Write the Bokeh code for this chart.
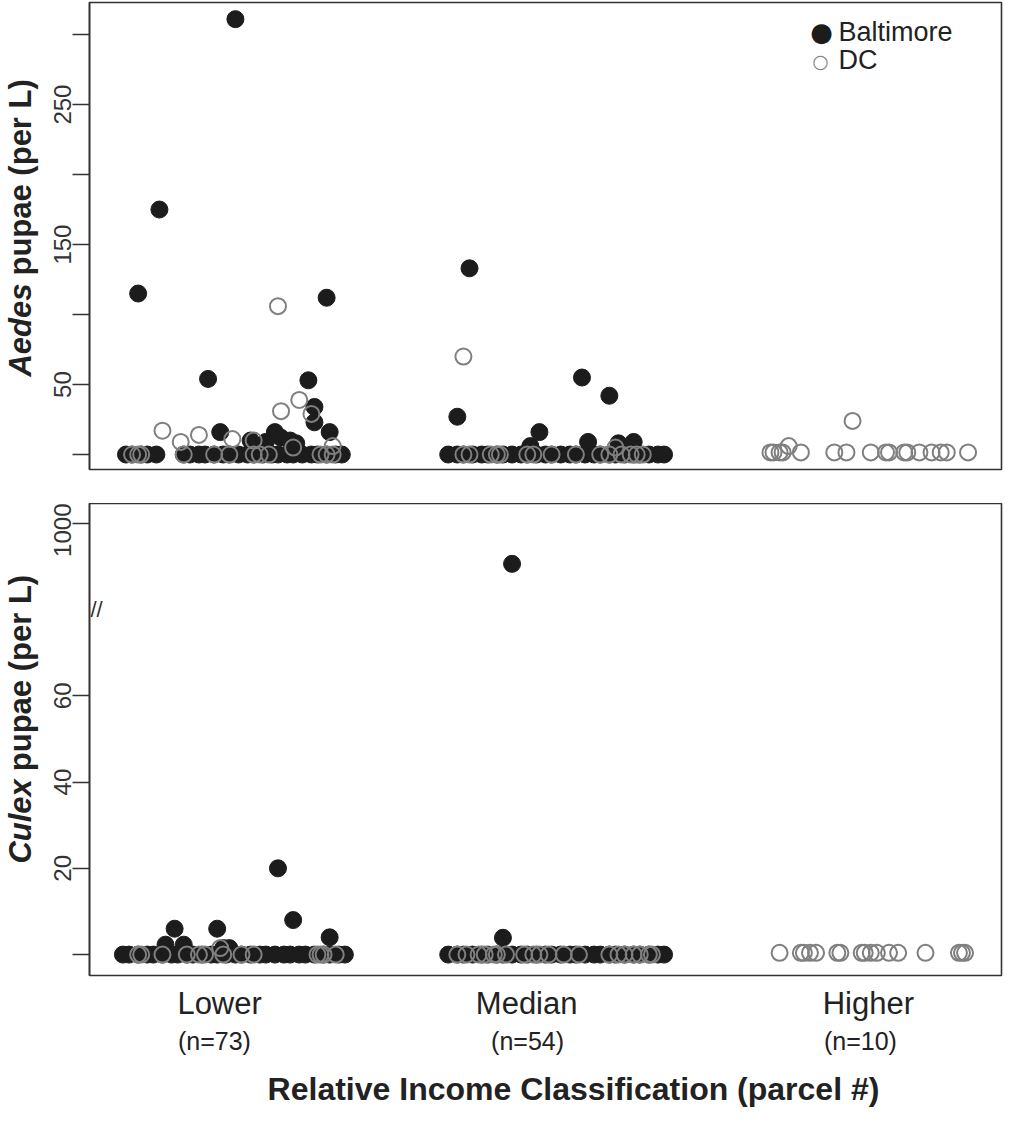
import math
from bokeh.plotting import figure
from bokeh.models import Range1d, FixedTicker, Label, ColumnDataSource, LinearAxis
from bokeh.layouts import column, row
from bokeh.embed import file_html
from bokeh.resources import INLINE

FONT = "Liberation Sans"
INK = "#222222"
FILL = "#1c1c1c"
GREY = "#7f7f7f"
LINE = "#333333"

# ---------------- data ----------------
categories = ["Lower", "Median", "Higher"]
n_labels = ["(n=73)", "(n=54)", "(n=10)"]
cat_pos = [1, 2, 3]
x_title = "Relative Income Classification (parcel #)"

# Aedes pupae (per L) -- Baltimore
aedes_balt_lower_jit = [-0.02, -0.27, -0.34, 0.28, -0.11, 0.22, 0.24, 0.24, 0.29, -0.07, 0.11, 0.03, 0.13, 0.16, 0.18, 0.08,
                        -0.38, -0.36, -0.33, -0.31, -0.28, -0.19, -0.17, -0.14, -0.12, -0.09, -0.06, -0.04, -0.01,
                        0.02, 0.04, 0.07, 0.10, 0.12, 0.15, 0.17, 0.20, 0.23, 0.25, 0.28, 0.31, 0.33]
aedes_balt_lower_val = [311, 175, 115, 112, 54, 53, 34, 23, 16, 16, 16, 10, 12, 10, 8, 9,
                        0, 0, 0, 0, 0, 0, 0, 0, 0, 0, 0, 0, 0,
                        0, 0, 0, 0, 0, 0, 0, 0, 0, 0, 0, 0, 0]
aedes_balt_median_jit = [-0.25, 0.12, 0.21, -0.29, -0.02, -0.05, 0.14, 0.24, 0.29,
                         -0.32, -0.29, -0.27, -0.24, -0.21, -0.19, -0.16, -0.14, -0.11, -0.08, -0.06, -0.03, 0.00, 0.02,
                         0.05, 0.08, 0.10, 0.13, 0.16, 0.18, 0.21, 0.23, 0.26, 0.29, 0.31, 0.34, 0.37, 0.39]
aedes_balt_median_val = [133, 55, 42, 27, 16, 6, 9, 8, 9,
                         0, 0, 0, 0, 0, 0, 0, 0, 0, 0, 0, 0, 0, 0,
                         0, 0, 0, 0, 0, 0, 0, 0, 0, 0, 0, 0, 0, 0]

# Aedes pupae (per L) -- DC
aedes_dc_lower_jit = [0.12, 0.19, 0.13, 0.23, -0.26, -0.14, -0.20, -0.03, 0.04, 0.17, 0.30,
                      -0.36, -0.34, -0.33, -0.19, -0.09, -0.04, 0.04, 0.06, 0.09, 0.26, 0.28, 0.30]
aedes_dc_lower_val = [106, 39, 31, 29, 17, 14, 9, 11, 10, 5, 6,
                      0, 0, 0, 0, 0, 0, 0, 0, 0, 0, 0, 0]
aedes_dc_median_jit = [-0.27, 0.23,
                       -0.27, -0.25, -0.18, -0.16, -0.15, -0.06, -0.04, 0.02, 0.10, 0.18, 0.21, 0.25, 0.28, 0.30, 0.32]
aedes_dc_median_val = [70, 5,
                       0, 0, 0, 0, 0, 0, 0, 0, 0, 0, 0, 0, 0, 0, 0]
aedes_dc_higher_jit = [-0.20, 0.01,
                       -0.26, -0.25, -0.23, -0.22, -0.16, -0.05, -0.01, 0.07, 0.12, 0.13, 0.18, 0.19, 0.23, 0.27,
                       0.30, 0.32, 0.39]
aedes_dc_higher_val = [6, 24,
                       1.5, 1.5, 1.5, 1.5, 1.5, 1.5, 1.5, 1.5, 1.5, 1.5, 1.5, 1.5, 1.5, 1.5, 1.5, 1.5, 1.5]

# Culex pupae (per L) -- Baltimore
culex_balt_lower_jit = [0.12, 0.17, 0.29, -0.22, -0.08, -0.25, -0.19, -0.06, -0.04,
                        -0.39, -0.37, -0.34, -0.31, -0.29, -0.26, -0.23, -0.21, -0.18, -0.16, -0.13, -0.10, -0.08,
                        -0.05, -0.02, 0.00, 0.03, 0.06, 0.08, 0.11, 0.14, 0.16, 0.19, 0.21, 0.24, 0.27, 0.29, 0.32, 0.34]
culex_balt_lower_val = [20, 8, 4, 6, 6, 2.3, 2.3, 1.5, 1.5,
                        0, 0, 0, 0, 0, 0, 0, 0, 0, 0, 0, 0, 0,
                        0, 0, 0, 0, 0, 0, 0, 0, 0, 0, 0, 0, 0, 0, 0, 0]
culex_balt_median_jit = [-0.11, -0.14,
                         -0.32, -0.29, -0.27, -0.24, -0.21, -0.19, -0.16, -0.14, -0.11, -0.08, -0.06, -0.03, 0.00, 0.02,
                         0.05, 0.08, 0.10, 0.13, 0.16, 0.18, 0.21, 0.23, 0.26, 0.29, 0.31, 0.34, 0.37, 0.39]
culex_balt_median_val = [906, 3.9,
                         0, 0, 0, 0, 0, 0, 0, 0, 0, 0, 0, 0, 0, 0,
                         0, 0, 0, 0, 0, 0, 0, 0, 0, 0, 0, 0, 0, 0]

# Culex pupae (per L) -- DC
culex_dc_lower_jit = [-0.07, -0.34, -0.33, -0.26, -0.18, -0.14, -0.12, -0.06, 0.00, 0.04, 0.25, 0.26, 0.27, 0.31]
culex_dc_lower_val = [1.5, 0, 0, 0, 0, 0, 0, 0, 0, 0, 0, 0, 0, 0]
culex_dc_median_jit = [-0.29, -0.26, -0.22, -0.20, -0.17, -0.16, -0.13, -0.07, -0.04, -0.02, 0.01, 0.06, 0.11,
                       0.21, 0.24, 0.26, 0.29, 0.31, 0.34, 0.35]
culex_dc_median_val = [0, 0, 0, 0, 0, 0, 0, 0, 0, 0, 0, 0, 0, 0, 0, 0, 0, 0, 0, 0]
culex_dc_higher_jit = [-0.23, -0.16, -0.15, -0.13, -0.11, -0.04, -0.03, 0.04, 0.05, 0.07, 0.09, 0.13, 0.16, 0.25,
                       0.36, 0.37, 0.38]
culex_dc_higher_val = [0.4, 0.4, 0.4, 0.4, 0.4, 0.4, 0.4, 0.4, 0.4, 0.4, 0.4, 0.4, 0.4, 0.4, 0.4, 0.4, 0.4]

aedes_ticks = [0, 50, 100, 150, 200, 250, 300]
aedes_tick_labels = {0: "", 50: "50", 100: "", 150: "150", 200: "", 250: "250", 300: ""}
culex_ticks = [0, 20, 40, 60, 100]
culex_tick_labels = {0: "", 20: "20", 40: "40", 60: "60", 100: "1000"}

# label anchor positions along the x axis (category units)
cat_label_x = [0.928, 1.938, 3.062]
n_label_x = [0.911, 1.941, 3.036]

# broken culex axis: linear up to the break, compressed above it
BREAK_AT = 80
UPPER_FROM = 800
UPPER_SCALE = 10


def culex_axis(v):
    return v if v <= 70 else BREAK_AT + (v - UPPER_FROM) / UPPER_SCALE


def xs(cat, jit):
    return [cat + j for j in jit]


TITLE_W = 44
MAIN_W = 966


def make_fig(height, yr, border_top, border_bottom, with_x_axis):
    p = figure(width=MAIN_W, height=height, x_range=Range1d(0.5, 3.5), y_range=yr,
               output_backend="svg", toolbar_location=None,
               x_axis_location="below" if with_x_axis else None,
               min_border_left=89 - TITLE_W, min_border_right=MAIN_W + TITLE_W - 1001,
               min_border_top=border_top, min_border_bottom=border_bottom,
               background_fill_color="white", border_fill_color="white")
    p.grid.visible = False
    p.outline_line_color = LINE
    p.outline_line_width = 1.6
    ax = p.yaxis[0]
    ax.axis_line_color = LINE
    ax.axis_line_width = 1.6
    ax.major_tick_line_color = LINE
    ax.major_tick_line_width = 1.6
    ax.major_tick_out = 17
    ax.major_tick_in = 0
    ax.minor_tick_out = 0
    ax.minor_tick_in = 0
    ax.major_label_orientation = "vertical"
    ax.major_label_text_font = FONT
    ax.major_label_text_font_size = "24px"
    ax.major_label_text_color = LINE
    ax.major_label_standoff = 1
    return p


def title_fig(height, yr, border_top, border_bottom):
    t = figure(width=TITLE_W, height=height, x_range=Range1d(0, TITLE_W), y_range=yr,
               output_backend="svg", toolbar_location=None, x_axis_location=None, y_axis_location=None,
               min_border_left=0, min_border_right=0, min_border_top=border_top, min_border_bottom=border_bottom,
               background_fill_color="white", border_fill_color="white", outline_line_color=None)
    t.grid.visible = False
    return t


def add_points(p, groups, filled):
    x, y = [], []
    for cat, jit, val in groups:
        x += xs(cat, jit)
        y += val
    src = ColumnDataSource(dict(x=x, y=y))
    if filled:
        p.scatter("x", "y", source=src, size=17, fill_color=FILL, line_color=FILL, line_width=1)
    else:
        p.scatter("x", "y", source=src, size=16, fill_color=None, line_color=GREY, line_width=2)


common = dict(text_font=FONT, text_color=INK)


def add_ytitle(t, y_join, word):
    t.add_layout(Label(x=20, x_units="screen", y=y_join, y_units="data", text=word, angle=math.pi / 2,
                       text_align="right", text_baseline="middle", text_font_style="bold italic",
                       text_font_size="31px", y_offset=-4, **common))
    t.add_layout(Label(x=20, x_units="screen", y=y_join, y_units="data", text="pupae (per L)", angle=math.pi / 2,
                       text_align="left", text_baseline="middle", text_font_style="bold",
                       text_font_size="31px", y_offset=4, **common))


# ---------------- top panel (Aedes) ----------------
yr1 = Range1d(-10.7, 322.9)
p1 = make_fig(503, yr1, 2, 34, False)
p1.yaxis[0].ticker = FixedTicker(ticks=aedes_ticks)
p1.yaxis[0].major_label_overrides = aedes_tick_labels

add_points(p1, [(cat_pos[0], aedes_balt_lower_jit, aedes_balt_lower_val),
                (cat_pos[1], aedes_balt_median_jit, aedes_balt_median_val)], True)
add_points(p1, [(cat_pos[0], aedes_dc_lower_jit, aedes_dc_lower_val),
                (cat_pos[1], aedes_dc_median_jit, aedes_dc_median_val),
                (cat_pos[2], aedes_dc_higher_jit, aedes_dc_higher_val)], False)

t1 = title_fig(503, yr1, 2, 34)
add_ytitle(t1, 125, "Aedes")

# legend
p1.add_layout(Label(x=732, y=438, x_units="screen", y_units="screen", text="\u25cf", text_align="center",
                    text_baseline="middle", text_font="DejaVu Sans", text_font_size="26px", text_color=FILL))
p1.add_layout(Label(x=731, y=409, x_units="screen", y_units="screen", text="\u25cb", text_align="center",
                    text_baseline="middle", text_font="DejaVu Sans", text_font_size="19px", text_color=GREY))
p1.add_layout(Label(x=749, y=438, x_units="screen", y_units="screen", text="Baltimore",
                    text_baseline="middle", text_font_size="27px", **common))
p1.add_layout(Label(x=749, y=410, x_units="screen", y_units="screen", text="DC",
                    text_baseline="middle", text_font_size="27px", **common))

# ---------------- bottom panel (Culex) ----------------
yr2 = Range1d(-4.85, 104.6)
p2 = make_fig(554, yr2, 0, 80, True)
p2.yaxis[0].ticker = FixedTicker(ticks=culex_ticks)
p2.yaxis[0].major_label_overrides = culex_tick_labels


def culex_group(cat, jit, val):
    return (cat, jit, [culex_axis(v) for v in val])


add_points(p2, [culex_group(cat_pos[0], culex_balt_lower_jit, culex_balt_lower_val),
                culex_group(cat_pos[1], culex_balt_median_jit, culex_balt_median_val)], True)
add_points(p2, [culex_group(cat_pos[0], culex_dc_lower_jit, culex_dc_lower_val),
                culex_group(cat_pos[1], culex_dc_median_jit, culex_dc_median_val),
                culex_group(cat_pos[2], culex_dc_higher_jit, culex_dc_higher_val)], False)

p2.add_layout(Label(x=1, x_units="screen", y=BREAK_AT, y_units="data", text="//", text_align="left",
                    text_baseline="middle", text_font=FONT, text_font_size="22px", text_color=LINE))

# x axis: category names
xa = p2.xaxis[0]
xa.ticker = FixedTicker(ticks=cat_label_x)
xa.major_label_overrides = {k: v for k, v in zip(cat_label_x, categories)}
xa.axis_line_color = None
xa.major_tick_out = 0
xa.major_tick_in = 0
xa.minor_tick_out = 0
xa.minor_tick_in = 0
xa.major_label_standoff = 10
xa.major_label_text_font = FONT
xa.major_label_text_font_size = "31px"
xa.major_label_text_color = INK

# second x axis: sample sizes
xn = LinearAxis(ticker=FixedTicker(ticks=n_label_x),
                major_label_overrides={k: v for k, v in zip(n_label_x, n_labels)},
                axis_line_color=None, major_tick_out=0, major_tick_in=0, minor_tick_out=0, minor_tick_in=0,
                major_label_standoff=3, major_label_text_font=FONT, major_label_text_font_size="25px",
                major_label_text_color=INK)
p2.add_layout(xn, "below")

t2 = title_fig(554, yr2, 0, 80)
add_ytitle(t2, 41.6, "Culex")

# ---------------- x title strip ----------------
xt = figure(width=TITLE_W + MAIN_W, height=55, x_range=Range1d(0, 1), y_range=Range1d(0, 1),
            output_backend="svg", toolbar_location=None, x_axis_location=None, y_axis_location=None,
            min_border=0, background_fill_color="white", border_fill_color="white", outline_line_color=None)
xt.grid.visible = False
xt.add_layout(Label(x=573, x_units="screen", y=24, y_units="screen", text=x_title, text_align="center",
                    text_baseline="alphabetic", text_font_style="bold", text_font_size="32px", **common))

layout = column(row(t1, p1), row(t2, p2), xt)
open("out.html", "w").write(file_html(layout, INLINE, "Aedes and Culex pupae"))
